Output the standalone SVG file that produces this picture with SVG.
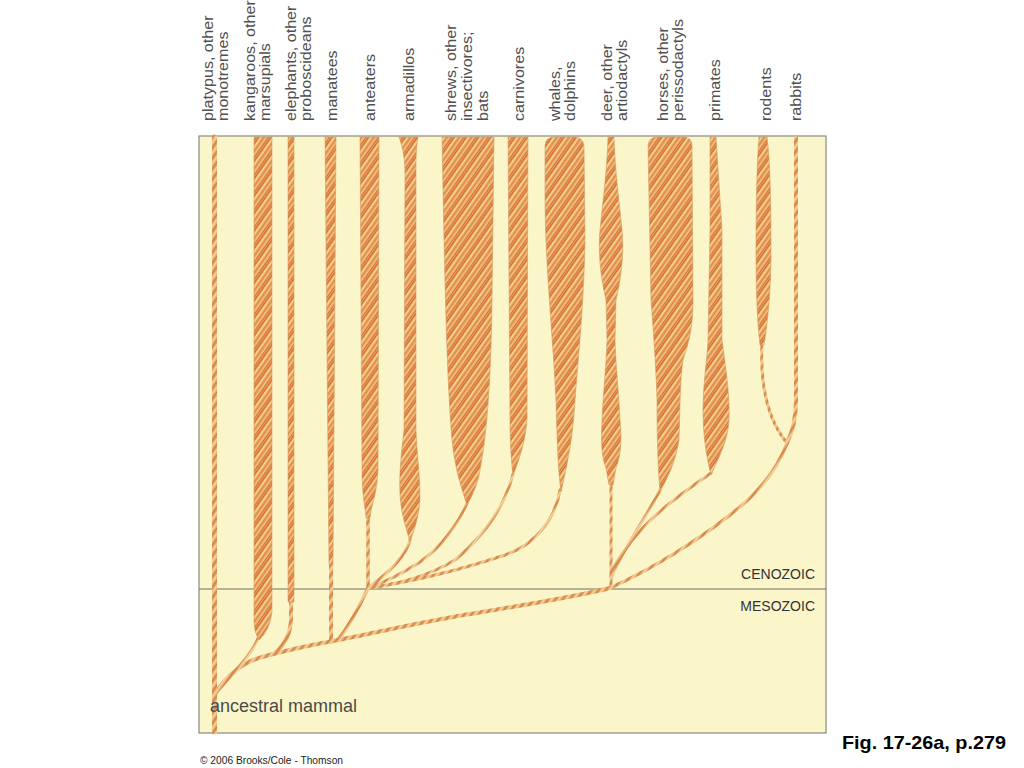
<svg xmlns="http://www.w3.org/2000/svg" width="1024" height="768" viewBox="0 0 1024 768">
<defs>
<pattern id="hatch" patternUnits="userSpaceOnUse" width="10" height="10" patternTransform="rotate(-55)">
<rect width="10" height="10" fill="#eaa968"/>
<rect y="0" width="10" height="1.2" fill="#d8692c"/>
<rect y="2" width="10" height="1.3" fill="#f7dea2"/>
<rect y="4.2" width="10" height="1.5" fill="#e08845"/>
<rect y="6.4" width="10" height="1" fill="#f3cc8c"/>
<rect y="8.3" width="10" height="0.8" fill="#cf5a22"/>
</pattern>
<pattern id="hatchLine" patternUnits="userSpaceOnUse" width="6" height="6" patternTransform="rotate(-55)">
<rect width="6" height="6" fill="#e6ad72"/>
<rect y="0" width="6" height="1.4" fill="#d27a3c"/>
<rect y="3" width="6" height="1.3" fill="#f5dba6"/>
</pattern>
<style>
.band{fill:url(#hatch);stroke:#d29a62;stroke-width:0.6}
.ln{fill:none;stroke:url(#hatchLine);stroke-linecap:round;stroke-linejoin:round}
.lbl{font-family:"Liberation Sans",Arial,sans-serif;font-size:14px;fill:#505050}
.era{font-family:"Liberation Sans",Arial,sans-serif;font-size:14px;fill:#333;text-anchor:end}
</style>
</defs>
<rect width="1024" height="768" fill="#ffffff"/>
<rect id="panel" x="199" y="136" width="627" height="597" fill="#fbf6c9" stroke="#8a8a80" stroke-width="1.2"/>
<line id="era-divider" x1="199" y1="589" x2="826" y2="589" stroke="#6e6e66" stroke-width="1.2"/>

<g id="connectors">
<path class="ln" stroke-width="4" d="M215,694 C226,675 244,662 262,657 C280,652 305,646 338,640 C380,632 420,622 470,614 C530,604 575,597 610,588"/>
<path class="ln" stroke-width="3.5" d="M610,588 C650,570 700,540 740,507 C760,490 778,468 787,443"/>
<path class="ln" stroke-width="3" d="M259,636 C252,655 233,673 215,694"/>
<path class="ln" stroke-width="4" d="M291,600 V618 C291,632 286,643 276,652"/>
<path class="ln" stroke-width="4" d="M331,560 V642"/>
<path class="ln" stroke-width="3.5" d="M338,640 C350,625 360,605 368,588"/>
<path class="ln" stroke-width="3.5" d="M368,515 V588"/>
<path class="ln" stroke-width="3" d="M410,540 C406,555 390,572 368,588"/>
<path class="ln" stroke-width="3" d="M467,503 C458,525 440,548 420,562 C400,575 385,582 368,588"/>
<path class="ln" stroke-width="3" d="M513,474 C505,505 485,535 455,560 C430,575 400,584 368,588"/>
<path class="ln" stroke-width="3" d="M560,490 C555,520 535,545 505,555 C460,570 410,582 368,588"/>
<path class="ln" stroke-width="3" d="M611,483 V588"/>
<path class="ln" stroke-width="3" d="M660,490 C645,520 625,545 612,576"/>
<path class="ln" stroke-width="3" d="M711,473 C680,495 640,520 612,570"/>
<path class="ln" stroke-width="3" d="M762,343 C760,385 768,420 787,443"/>
<path class="ln" stroke-width="4" d="M796,138 V400 C796,420 792,433 787,443"/>
</g>

<g id="platypus">
<path class="ln" stroke-width="5" stroke-linecap="butt" d="M214.5,137 V732"/>
<text class="lbl" transform="translate(213,121) rotate(-90) scale(1.15,1)">platypus, other<tspan x="0" dy="15">monotremes</tspan></text>
</g>
<g id="kangaroos">
<path class="band" d="M254,137 H272 V612 Q270,630 259,640 Q254,632 254,622 Z"/>
<text class="lbl" transform="translate(255,121) rotate(-90) scale(1.15,1)">kangaroos, other<tspan x="0" dy="15">marsupials</tspan></text>
</g>
<g id="elephants">
<path class="band" d="M288,137 H294 V602 H288 Z"/>
<text class="lbl" transform="translate(296,121) rotate(-90) scale(1.15,1)">elephants, other<tspan x="0" dy="15">proboscideans</tspan></text>
</g>
<g id="manatees">
<path class="band" d="M325,137 H336 L333,565 H329 Z"/>
<text class="lbl" transform="translate(337,121) rotate(-90) scale(1.15,1)">manatees</text>
</g>
<g id="anteaters">
<path class="band" d="M360,137 H379 L378,470 C377,495 371,505 370,518 L366,518 C365,505 362,495 362,470 Z"/>
<text class="lbl" transform="translate(375,121) rotate(-90) scale(1.15,1)">anteaters</text>
</g>
<g id="armadillos">
<path class="band" d="M399,137 C403,148 405,160 405,175 L404,430 C401,455 399,475 400,495 C401,515 407,530 410,542 C414,530 420,515 420,495 C420,475 417,455 416,430 L416,175 C416,160 416,148 418,137 Z"/>
<text class="lbl" transform="translate(414,121) rotate(-90) scale(1.15,1)">armadillos</text>
</g>
<g id="shrews">
<path class="band" d="M442,137 H494 L492,300 C491,380 487,440 478,480 C474,492 470,500 467,505 C462,490 455,470 452,440 C447,380 445,300 442,137 Z"/>
<text class="lbl" transform="translate(456,121) rotate(-90) scale(1.15,1)">shrews, other<tspan x="0" dy="16">insectivores;</tspan><tspan x="0" dy="16">bats</tspan></text>
</g>
<g id="carnivores">
<path class="band" d="M508,137 H528 L527,420 C525,445 518,462 513,476 C511,460 510,440 510,420 Z"/>
<text class="lbl" transform="translate(524,121) rotate(-90) scale(1.15,1)">carnivores</text>
</g>
<g id="whales">
<path class="band" d="M545,146 Q545,137 555,137 H574 Q583,137 584,146 L585,240 C584,300 579,350 575,400 C573,440 566,470 561,492 C558,470 557,440 556,400 C553,340 545,260 545,200 Z"/>
<text class="lbl" transform="translate(560,121) rotate(-90) scale(1.15,1)">whales,<tspan x="0" dy="15">dolphins</tspan></text>
</g>
<g id="deer">
<path class="band" d="M608,137 H614 C615,170 619,200 622,230 C624,250 622,275 616,300 L615,340 C616,370 619,395 620,420 C622,440 621,455 616,468 L613,485 L609,485 L606,468 C601,455 601,440 602,420 C603,395 606,370 607,340 L606,300 C600,275 598,250 600,230 C603,200 607,170 608,137 Z"/>
<text class="lbl" transform="translate(612,121) rotate(-90) scale(1.15,1)">deer, other<tspan x="0" dy="15">artiodactyls</tspan></text>
</g>
<g id="horses">
<path class="band" d="M648,146 Q648,137 658,137 H683 Q692,137 692,146 L693,300 C693,330 688,345 683,360 C680,380 680,410 679,440 C675,465 666,480 660,492 C658,470 657,440 657,400 C656,370 654,340 651,300 Z"/>
<text class="lbl" transform="translate(668,121) rotate(-90) scale(1.15,1)">horses, other<tspan x="0" dy="15">perissodactyls</tspan></text>
</g>
<g id="primates">
<path class="band" d="M710,137 H716 L722,230 L722,340 C726,370 730,395 729,420 C728,440 720,455 711,475 C706,455 703,435 703,410 C703,385 707,360 708,340 L710,230 Z"/>
<text class="lbl" transform="translate(720,121) rotate(-90) scale(1.15,1)">primates</text>
</g>
<g id="rodents">
<path class="band" d="M759,137 H767 C770,160 771,200 771,250 C771,290 768,320 764,345 L760,345 C757,320 756,290 756,250 C756,200 757,160 759,137 Z"/>
<text class="lbl" transform="translate(771,121) rotate(-90) scale(1.15,1)">rodents</text>
</g>
<g id="rabbits">
<text class="lbl" transform="translate(801,121) rotate(-90) scale(1.15,1)">rabbits</text>
</g>

<text class="era" x="815" y="579">CENOZOIC</text>
<text class="era" x="815" y="611">MESOZOIC</text>
<text x="210" y="712" font-family="Liberation Sans, Arial, sans-serif" font-size="18" fill="#4a4a4a">ancestral mammal</text>
<text x="842" y="749" font-family="Liberation Sans, Arial, sans-serif" font-size="19" font-weight="bold" fill="#000" textLength="164" lengthAdjust="spacingAndGlyphs">Fig. 17-26a, p.279</text>
<text x="200" y="764" font-family="Liberation Sans, Arial, sans-serif" font-size="10.5" fill="#222" textLength="143" lengthAdjust="spacingAndGlyphs">© 2006 Brooks/Cole - Thomson</text>
</svg>
